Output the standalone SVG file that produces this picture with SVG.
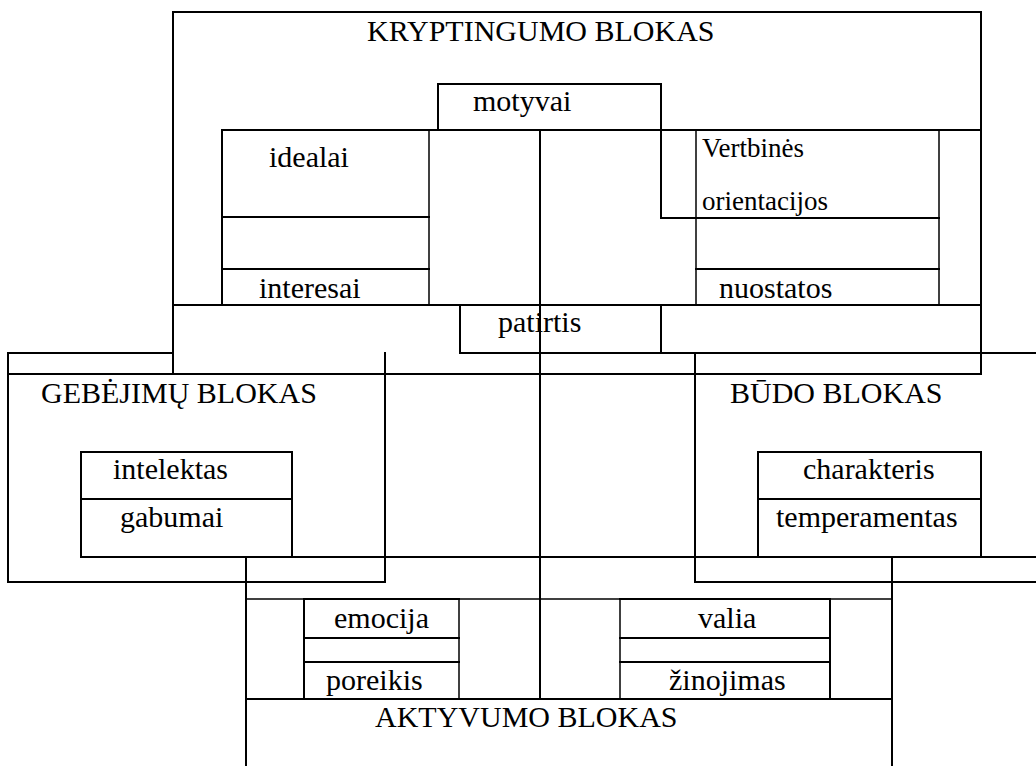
<svg xmlns="http://www.w3.org/2000/svg" width="1036" height="766" viewBox="0 0 1036 766">
<style>
line{stroke:#000;stroke-width:2;stroke-linecap:square}
line.t{stroke-width:1.5}
rect.b{fill:none;stroke:#000;stroke-width:2}
text{font-family:'Liberation Serif','Times New Roman',Tinos,'DejaVu Serif',serif;font-size:30px;fill:#000}
text.s{font-size:27px}
</style>
<rect x="0" y="0" width="1036" height="766" fill="#fff"/>
<g id="kryptingumo">
<line x1="173" y1="12" x2="981" y2="12"/>
<line x1="173" y1="12" x2="173" y2="374"/>
<line x1="981" y1="12" x2="981" y2="374"/>
<line x1="222" y1="130" x2="981" y2="130"/>
<line x1="173" y1="305" x2="981" y2="305"/>
<line x1="8" y1="374" x2="981" y2="374"/>
<text x="367" y="41" font-family="Liberation Serif, serif">KRYPTINGUMO BLOKAS</text>
</g>
<g id="motyvai">
<line x1="438" y1="84" x2="661" y2="84"/>
<line x1="438" y1="84" x2="438" y2="130"/>
<line x1="661" y1="84" x2="661" y2="218"/>
<text x="473" y="111">motyvai</text>
</g>
<g id="idealai-interesai">
<line x1="222" y1="130" x2="222" y2="305"/>
<line class="t" x1="429" y1="130" x2="429" y2="305"/>
<line x1="222" y1="217" x2="429" y2="217"/>
<line x1="222" y1="269" x2="429" y2="269"/>
<text x="269" y="167">idealai</text>
<text x="259" y="298">interesai</text>
</g>
<g id="vertybines-nuostatos">
<line class="t" x1="696" y1="130" x2="696" y2="305"/>
<line class="t" x1="939" y1="130" x2="939" y2="305"/>
<line x1="661" y1="218" x2="939" y2="218"/>
<line x1="696" y1="269" x2="939" y2="269"/>
<text class="s" x="702" y="157">Vertbinės</text>
<text class="s" x="702" y="210">orientacijos</text>
<text x="719" y="298">nuostatos</text>
</g>
<g id="patirtis">
<line x1="460" y1="305" x2="460" y2="353"/>
<line x1="661" y1="305" x2="661" y2="353"/>
<line x1="460" y1="353" x2="1036" y2="353"/>
<text x="498" y="332">patirtis</text>
</g>
<g id="gebejimu">
<line x1="8" y1="353" x2="173" y2="353"/>
<line x1="8" y1="353" x2="8" y2="582"/>
<line x1="8" y1="582" x2="385" y2="582"/>
<line x1="385" y1="353" x2="385" y2="582"/>
<text x="41" y="403">GEBĖJIMŲ BLOKAS</text>
<rect class="b" x="81" y="452" width="211" height="105"/>
<line x1="81" y1="499" x2="292" y2="499"/>
<text x="113" y="479">intelektas</text>
<text x="120" y="527">gabumai</text>
</g>
<g id="budo">
<line x1="695" y1="353" x2="695" y2="582"/>
<line x1="695" y1="582" x2="1036" y2="582"/>
<text x="730" y="403">BŪDO BLOKAS</text>
<rect class="b" x="758" y="452" width="223" height="105"/>
<line x1="758" y1="499" x2="981" y2="499"/>
<text x="803" y="479">charakteris</text>
<text x="776" y="527">temperamentas</text>
</g>
<g id="aktyvumo">
<line x1="292" y1="557" x2="1036" y2="557"/>
<line x1="246" y1="557" x2="246" y2="766"/>
<line x1="892" y1="557" x2="892" y2="766"/>
<line class="t" x1="246" y1="599" x2="892" y2="599"/>
<line x1="246" y1="699" x2="892" y2="699"/>
<text x="375" y="727">AKTYVUMO BLOKAS</text>
</g>
<g id="emocija-poreikis">
<line x1="304" y1="599" x2="459" y2="599"/>
<line x1="304" y1="599" x2="304" y2="699"/>
<line class="t" x1="459" y1="599" x2="459" y2="699"/>
<line x1="304" y1="638" x2="459" y2="638"/>
<line x1="304" y1="662" x2="459" y2="662"/>
<text x="334" y="628">emocija</text>
<text x="326" y="690">poreikis</text>
</g>
<g id="valia-zinojimas">
<line x1="620" y1="599" x2="830" y2="599"/>
<line class="t" x1="620" y1="599" x2="620" y2="699"/>
<line x1="830" y1="599" x2="830" y2="699"/>
<line x1="620" y1="638" x2="830" y2="638"/>
<line x1="620" y1="662" x2="830" y2="662"/>
<text x="698" y="628">valia</text>
<text x="669" y="690">žinojimas</text>
</g>
<g id="connectors">
<line x1="540" y1="130" x2="540" y2="699"/>
</g>
</svg>
